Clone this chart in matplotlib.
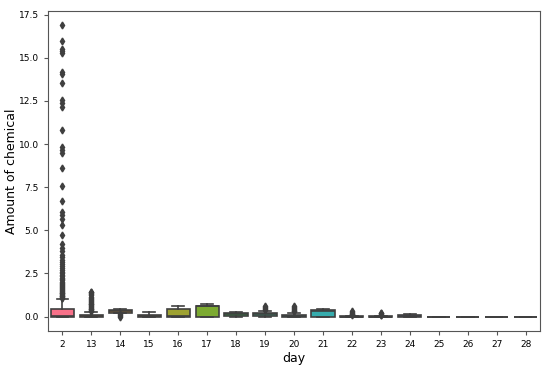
import numpy as np
import matplotlib
matplotlib.use("Agg")
import matplotlib.pyplot as plt
import seaborn as sns

days = ["2", "13", "14", "15", "16", "17", "18", "19", "20", "21", "22", "23", "24", "25", "26", "27", "28"]
q1 = [0.0, 0.0, 0.22, 0.0, 0.0, 0.0, 0.05, 0.05, 0.0, 0.0, 0.0, 0.0, 0.0, 0.0, 0.0, 0.0, 0.0]
med = [0.05, 0.02, 0.3, 0.04, 0.03, 0.6, 0.15, 0.14, 0.03, 0.3, 0.0, 0.0, 0.05, 0.0, 0.0, 0.0, 0.0]
q3 = [0.42, 0.08, 0.4, 0.1, 0.42, 0.64, 0.2, 0.22, 0.1, 0.37, 0.02, 0.02, 0.1, 0.0, 0.0, 0.0, 0.0]
wlo = [0.0, 0.0, 0.18, 0.0, 0.0, 0.0, 0.0, 0.0, 0.0, 0.0, 0.0, 0.0, 0.0, 0.0, 0.0, 0.0, 0.0]
whi = [1.02, 0.27, 0.44, 0.24, 0.64, 0.7, 0.28, 0.34, 0.22, 0.42, 0.05, 0.05, 0.12, 0.0, 0.0, 0.0, 0.0]
fliers = [
    [1.05, 1.09, 1.13, 1.17, 1.21, 1.25, 1.3, 1.34, 1.39, 1.44, 1.49, 1.54, 1.6, 1.65, 1.71, 1.77,
     1.83, 1.9, 1.96, 2.03, 2.1, 2.17, 2.25, 2.33, 2.41, 2.5, 2.6, 2.7, 2.8, 2.92, 3.05, 3.18, 3.3,
     3.45, 3.57, 3.77, 3.96, 4.21, 4.71, 5.31, 5.66, 5.89, 6.08, 6.72, 7.59, 8.6, 9.47, 9.66, 9.85,
     10.82, 12.13, 12.36, 12.55, 13.52, 14.06, 14.19, 15.26, 15.41, 15.49, 15.97, 16.88],
    [0.3, 0.34, 0.38, 0.42, 0.46, 0.5, 0.55, 0.6, 0.65, 0.7, 0.75, 0.8, 0.86, 0.92, 0.98, 1.04,
     1.1, 1.16, 1.22, 1.28, 1.34, 1.4, 1.45],
    [0.0, 0.04, 0.08, 0.12],
    [],
    [],
    [],
    [],
    [0.4, 0.45, 0.5, 0.55, 0.6],
    [0.3, 0.35, 0.4, 0.45, 0.5, 0.55, 0.6],
    [],
    [0.08, 0.12, 0.17, 0.22, 0.27, 0.31],
    [0.07, 0.1, 0.14, 0.18, 0.22],
    [],
    [],
    [],
    [],
    [],
]

stats = [dict(q1=a, med=m, q3=b, whislo=lo, whishi=hi, fliers=f)
         for a, m, b, lo, hi, f in zip(q1, med, q3, wlo, whi, fliers)]
colors = sns.color_palette("husl", len(days))
gray = "#3f3f3f"

fig, ax = plt.subplots(figsize=(5.5, 3.66), dpi=100)
bp = ax.bxp(stats, positions=np.arange(len(days)), widths=0.8, patch_artist=True,
            boxprops=dict(edgecolor=gray, linewidth=1.2),
            medianprops=dict(color=gray, linewidth=1.2),
            whiskerprops=dict(color=gray, linewidth=1.2),
            capprops=dict(color=gray, linewidth=1.2),
            flierprops=dict(marker="d", markerfacecolor=gray, markeredgecolor=gray, markersize=3.5))
for patch, c in zip(bp["boxes"], colors):
    patch.set_facecolor(c)
for cap in bp["caps"]:
    mid = cap.get_xdata().mean()
    cap.set_xdata([mid - 0.2, mid + 0.2])

ax.set_xticks(np.arange(len(days)))
ax.set_xticklabels(days)
ax.set_xlim(-0.5, len(days) - 0.5)
ax.set_ylim(-0.83, 17.71)
ax.set_yticks([0, 2.5, 5, 7.5, 10, 12.5, 15, 17.5])
ax.set_yticklabels(["0.0", "2.5", "5.0", "7.5", "10.0", "12.5", "15.0", "17.5"])
ax.tick_params(labelsize=6.5, length=3, color="#555555")
for s in ax.spines.values():
    s.set_color("#555555")
ax.set_xlabel("day", fontsize=9, labelpad=2)
ax.set_ylabel("Amount of chemical", fontsize=9)
ax.yaxis.set_label_coords(-0.06, 0.5)
fig.subplots_adjust(left=0.087, right=0.982, top=0.97, bottom=0.096)
fig.savefig("out.png", dpi=100)
